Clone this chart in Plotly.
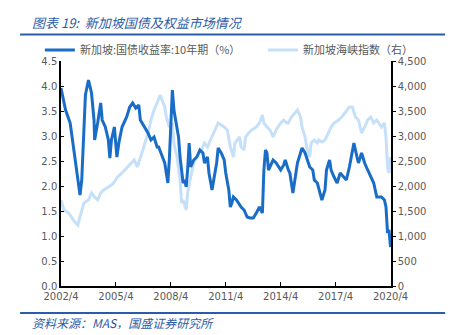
import plotly.graph_objects as go

# ---- data ----
yield_dates = ["2002-04","2002-06","2002-07","2002-10","2002-12","2003-02","2003-03","2003-04-15","2003-05-20","2003-07","2003-08","2003-10","2003-12","2004-01-20","2004-02","2004-04","2004-06","2004-07","2004-09","2004-11","2004-12","2005-01","2005-03","2005-04-20","2005-06","2005-08","2005-11","2006-01","2006-03","2006-05","2006-07","2006-08","2006-11","2007-01","2007-03","2007-05","2007-07","2007-08","2007-10","2007-12","2008-01","2008-02","2008-03","2008-04","2008-05","2008-06","2008-07-20","2008-09","2008-10","2008-11","2008-12","2009-01","2009-02","2009-03","2009-04","2009-05","2009-07","2009-09","2009-11","2010-01","2010-02","2010-04","2010-05","2010-07","2010-09","2010-10","2010-11","2011-01","2011-03","2011-04","2011-06","2011-07","2011-08","2011-09","2011-11","2012-02","2012-04","2012-06","2012-08","2012-10","2012-12","2013-02","2013-04","2013-05","2013-06","2013-07","2013-08","2013-09","2013-11","2014-01","2014-04","2014-06","2014-07","2014-09","2014-10","2014-12","2015-02","2015-03","2015-05","2015-06","2015-08","2015-10","2015-11","2016-01","2016-02","2016-04","2016-06","2016-07","2016-09","2016-10","2016-12","2017-01","2017-03","2017-05","2017-07","2017-09","2017-11","2018-01","2018-03","2018-04","2018-06","2018-07","2018-09","2018-11","2019-01","2019-03","2019-05","2019-07","2019-10","2019-12","2020-01","2020-02","2020-03","2020-04"]
yield_values = [3.96,3.66,3.52,3.26,2.78,2.38,2.06,1.82,2.12,3.32,3.82,4.12,3.86,3.32,2.92,3.26,3.66,3.32,3.18,2.92,2.56,2.92,3.18,2.58,2.88,3.18,3.38,3.58,3.66,3.56,3.62,3.32,3.18,3.06,2.92,2.98,2.78,2.78,2.62,2.46,2.26,2.06,2.52,3.12,3.92,3.52,3.26,2.98,2.58,2.26,2.06,2.12,1.98,2.32,2.86,2.38,2.52,2.58,2.72,2.66,2.46,2.58,2.26,1.92,2.26,2.46,2.76,2.66,2.52,2.26,1.92,1.58,1.66,1.78,1.72,1.58,1.52,1.38,1.36,1.36,1.46,1.58,1.46,2.32,2.72,2.66,2.32,2.38,2.52,2.46,2.32,2.42,2.52,2.32,2.26,1.86,2.26,2.46,2.66,2.76,2.66,2.46,2.38,2.32,2.12,2.06,1.86,1.72,1.92,2.32,2.52,2.32,2.18,2.06,2.26,2.18,2.12,2.38,2.66,2.86,2.58,2.46,2.66,2.46,2.32,2.18,2.06,1.78,1.78,1.72,1.58,1.06,1.12,0.78]

sti_dates = ["2002-04","2002-06","2002-09","2002-11","2003-01","2003-03","2003-05","2003-07","2003-10","2003-12","2004-02","2004-04","2004-06","2004-08","2004-11","2005-01","2005-03","2005-05","2005-08","2005-10","2005-12","2006-02","2006-04","2006-06","2006-09","2006-11","2007-01","2007-03","2007-05","2007-07","2007-09","2007-11","2007-12","2008-01","2008-03","2008-05","2008-06","2008-08","2008-10","2008-11","2008-12","2009-02","2009-03","2009-05","2009-07","2009-09","2009-12","2010-02","2010-04","2010-06","2010-09","2010-11","2011-01","2011-03","2011-05","2011-07","2011-09","2011-10","2012-01","2012-02","2012-04","2012-05","2012-07","2012-09","2012-12","2013-02","2013-04","2013-05","2013-07","2013-09","2013-11","2014-01","2014-04","2014-06","2014-08","2014-09","2014-11","2015-01","2015-03","2015-05","2015-06","2015-08","2015-09","2015-11","2015-12","2016-02","2016-04","2016-05","2016-07","2016-09","2016-11","2017-01","2017-03","2017-06","2017-08","2017-10","2018-01","2018-03","2018-05","2018-07","2018-09","2018-11","2019-01","2019-03","2019-05","2019-07","2019-10","2019-12","2020-01","2020-02","2020-03","2020-04"]
sti_values = [1720,1520,1460,1360,1280,1220,1460,1660,1720,1860,1780,1720,1860,1920,1980,2020,2080,2180,2260,2320,2380,2460,2520,2380,2660,2860,3060,3320,3520,3660,3820,3660,3580,3380,3180,3260,2860,2580,2120,1660,1720,1520,1860,2180,2460,2580,2720,2860,2780,2920,3120,3260,3220,3180,3120,2780,2580,2860,2980,2780,2720,2980,3060,3120,3180,3260,3420,3260,3180,3120,2980,3120,3260,3320,3260,3260,3380,3460,3520,3380,3180,2980,2780,2580,2860,2920,2860,2920,2880,2920,3060,3180,3260,3320,3380,3460,3580,3580,3380,3320,3060,3180,3320,3380,3260,3320,3180,3260,2980,2380,2260,2580]

tick_vals = ["2002-04-01","2005-04-01","2008-04-01","2011-04-01","2014-04-01","2017-04-01","2020-04-01"]
tick_text = ["2002/4","2005/4","2008/4","2011/4","2014/4","2017/4","2020/4"]

name_yield = "新加坡:国债收益率:10年期（%）"
name_sti = "新加坡海峡指数（右）"
title_text = "图表 19:  新加坡国债及权益市场情况"
source_text = "资料来源：MAS，国盛证券研究所"

BLUE = "#1a6dc6"
LIGHT = "#c6e0f9"
DARK_BLUE = "#2a5ca8"
GRAY = "#595959"
CJK = "Noto Sans CJK SC"
TICKFONT = dict(family="DejaVu Sans", size=10, color=GRAY)
LEGFONT = dict(family=CJK, size=11, color=GRAY)

fig = go.Figure()
fig.add_trace(go.Scatter(x=yield_dates, y=yield_values, name=name_yield, mode="lines",
                         line=dict(color=BLUE, width=3), yaxis="y2", legend="legend"))
fig.add_trace(go.Scatter(x=sti_dates, y=sti_values, name=name_sti, mode="lines",
                         line=dict(color=LIGHT, width=3), yaxis="y", legend="legend2"))

fig.update_layout(
    width=454, height=335,
    margin=dict(l=61, r=63, t=61, b=49),
    paper_bgcolor="white", plot_bgcolor="white",
    showlegend=True,
    legend=dict(orientation="h", x=-0.064, y=1.049, xanchor="left", yanchor="middle",
                font=LEGFONT, bgcolor="rgba(0,0,0,0)"),
    legend2=dict(orientation="h", x=0.612, y=1.049, xanchor="left", yanchor="middle",
                 font=LEGFONT, bgcolor="rgba(0,0,0,0)"),
    xaxis=dict(type="date", range=["2002-04-01", "2020-04-10"],
               tickvals=tick_vals, ticktext=tick_text,
               showline=True, linecolor="#000", linewidth=1.5,
               ticks="inside", ticklen=4, tickcolor="#000",
               showgrid=False, zeroline=False, tickfont=TICKFONT),
    yaxis=dict(side="right", range=[0, 4500], dtick=500, tickformat=",",
               showline=True, linecolor="#000", linewidth=1.5,
               ticks="outside", ticklen=3, tickcolor="#000",
               showgrid=False, zeroline=False, tickfont=TICKFONT),
    yaxis2=dict(side="left", overlaying="y", range=[0, 4.5], dtick=0.5, tickformat=".1f",
                showline=True, linecolor="#000", linewidth=1.5,
                ticks="inside", ticklen=3, tickcolor="#000",
                showgrid=False, zeroline=False, tickfont=TICKFONT, anchor="x"),
)

fig.add_annotation(text=title_text, xref="paper", yref="paper", x=-0.094, y=1.173,
                   xanchor="left", yanchor="middle", showarrow=False,
                   font=dict(family=CJK, size=13, color=DARK_BLUE, style="italic"))
fig.add_annotation(text=source_text, xref="paper", yref="paper", x=-0.094, y=-0.16,
                   xanchor="left", yanchor="middle", showarrow=False,
                   font=dict(family=CJK, size=12, color=DARK_BLUE, style="italic"))
fig.add_shape(type="line", xref="paper", yref="paper", x0=-0.124, x1=1.164, y0=1.118, y1=1.118,
              line=dict(color=DARK_BLUE, width=2))
fig.add_shape(type="line", xref="paper", yref="paper", x0=-0.124, x1=1.164, y0=-0.12, y1=-0.12,
              line=dict(color=DARK_BLUE, width=2))

fig.write_html("out.html")
